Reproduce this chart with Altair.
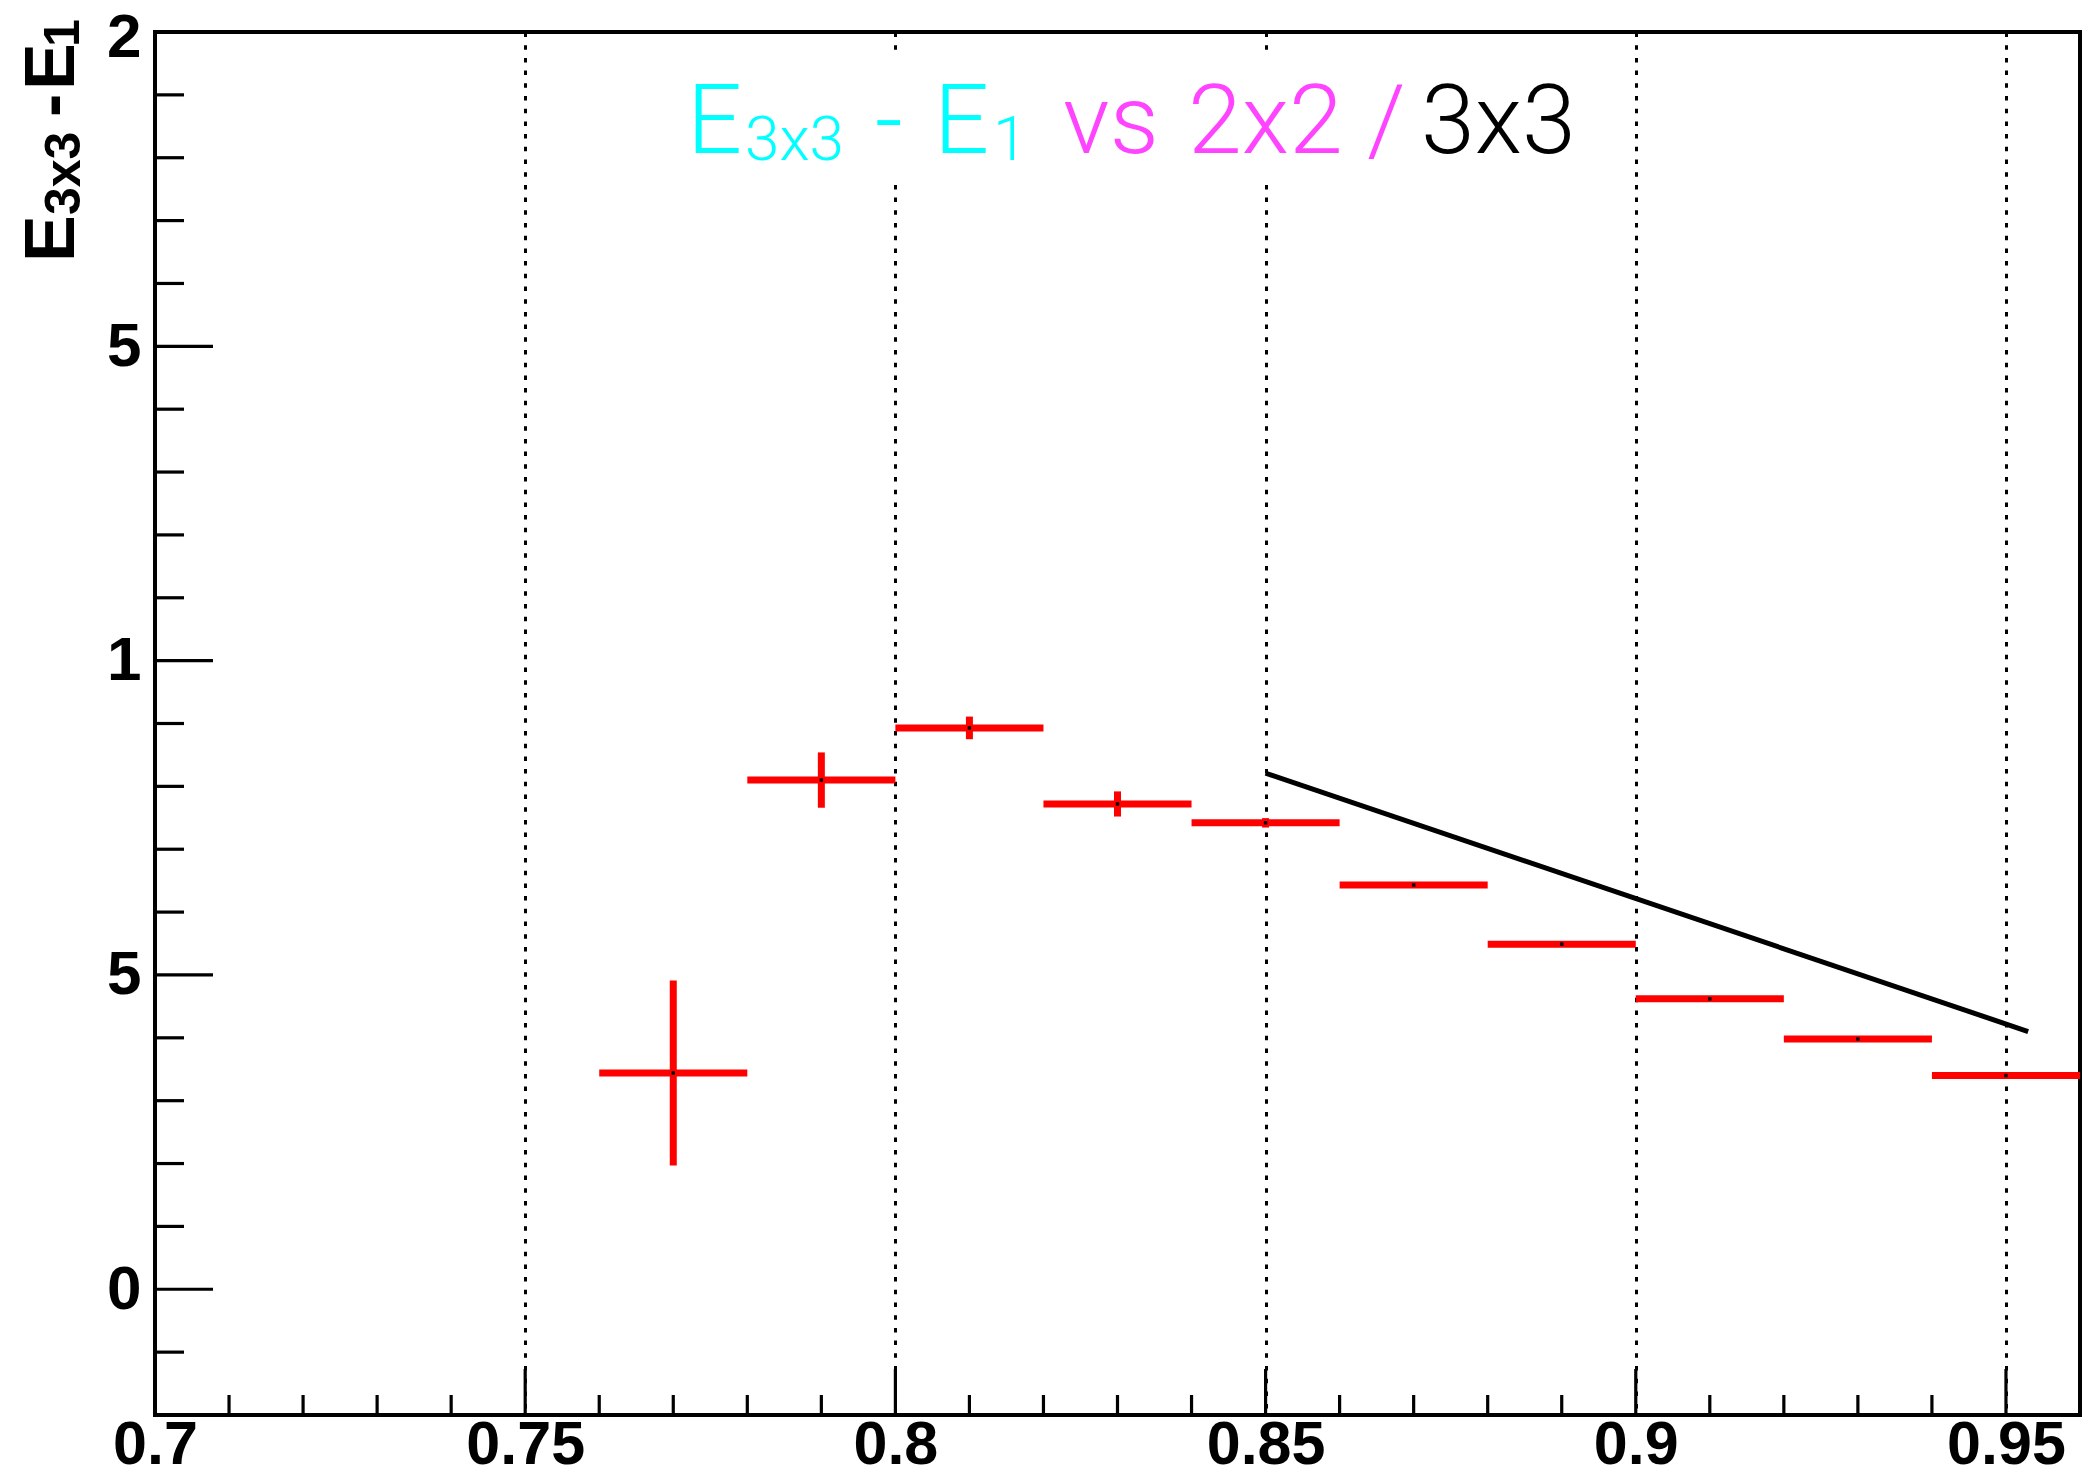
import altair as alt
import pandas as pd

# ---------------- data ----------------
bin_center = [0.77, 0.79, 0.81, 0.83, 0.85, 0.87, 0.89, 0.91, 0.93, 0.95]
bin_low = [0.76, 0.78, 0.80, 0.82, 0.84, 0.86, 0.88, 0.90, 0.92, 0.94]
bin_high = [0.78, 0.80, 0.82, 0.84, 0.86, 0.88, 0.90, 0.92, 0.94, 0.96]
value = [0.344, 0.810, 0.893, 0.772, 0.742, 0.643, 0.549, 0.462, 0.398, 0.340]
error = [0.147, 0.044, 0.018, 0.020, 0.0075, 0.002, 0.002, 0.002, 0.002, 0.002]

fit_x = [0.85, 0.953]
fit_y = [0.821, 0.410]

x_major = [0.7, 0.75, 0.8, 0.85, 0.9, 0.95]
x_minor = [0.71, 0.72, 0.73, 0.74, 0.76, 0.77, 0.78, 0.79, 0.81, 0.82, 0.83, 0.84,
           0.86, 0.87, 0.88, 0.89, 0.91, 0.92, 0.93, 0.94]
y_major = [0, 0.5, 1, 1.5, 2]
y_major_labels = ["0", "5", "1", "5", "2"]
y_minor = [-0.1, 0.1, 0.2, 0.3, 0.4, 0.6, 0.7, 0.8, 0.9, 1.1, 1.2, 1.3, 1.4,
           1.6, 1.7, 1.8, 1.9]

# ---------------- tables ----------------
df = pd.DataFrame({"xc": bin_center, "xl": bin_low, "xh": bin_high, "v": value, "e": error})
df["lo"] = df["v"] - df["e"]
df["hi"] = df["v"] + df["e"]
fit = pd.DataFrame({"x": fit_x, "y": fit_y})
xmaj = pd.DataFrame({"x": x_major[1:]})
xmin = pd.DataFrame({"x": x_minor})
ymaj = pd.DataFrame({"y": y_major})
ymin = pd.DataFrame({"y": y_minor})
one = alt.Data(values=[{"k": 1}])

W, H = 1925, 1383
RED = "#ff0000"
LABEL_FONT = "Liberation Sans"
TITLE_FONT = "Roboto"

label_expr = " : ".join(
    f"datum.value == {v} ? '{l}'" for v, l in zip(y_major, y_major_labels)
) + " : ''"

xscale = alt.Scale(domain=[0.7, 0.96], nice=False, zero=False)
yscale = alt.Scale(domain=[-0.2, 2.0], nice=False, zero=False)

xaxis = alt.Axis(values=x_major, format=".2~f", title=None, ticks=False, domain=False,
                 labelPadding=0, labelFontSize=61, labelFont=LABEL_FONT,
                 labelFontWeight="bold", labelColor="black", labelFlush=False,
                 grid=True, gridColor="black", gridDash=[4.5, 8.2], gridWidth=3,
                 gridOpacity=1)
yaxis = alt.Axis(values=y_major, labelExpr=label_expr, title=None, ticks=False,
                 domain=False, labelPadding=14, labelFontSize=62, labelFont=LABEL_FONT,
                 labelFontWeight="bold", labelColor="black", grid=False, labelFlush=False,
                 labelOffset=alt.ExprRef(expr="datum.value == 2 ? 5 : 0"))


def X(field):
    return alt.X(field, type="quantitative", scale=xscale, axis=xaxis)


def Y(field):
    return alt.Y(field, type="quantitative", scale=yscale, axis=yaxis)


hbars = alt.Chart(df).mark_rule(color=RED, strokeWidth=7).encode(
    x=X("xl"), x2="xh", y=Y("v"))
vbars = alt.Chart(df).mark_rule(color=RED, strokeWidth=7).encode(
    x=X("xc"), y=Y("lo"), y2="hi")
dots = alt.Chart(df).mark_square(color="black", size=12, opacity=1).encode(
    x=X("xc"), y=Y("v"))
fitline = alt.Chart(fit).mark_line(color="black", strokeWidth=5).encode(
    x=X("x"), y=Y("y"))

# inward tick marks (ROOT style)
tick_style = dict(color="black", strokeWidth=3.2)
xt_major = alt.Chart(xmaj).mark_rule(**tick_style).encode(
    x=X("x"), y=alt.value(H), y2=alt.value(H - 46))
xt_minor = alt.Chart(xmin).mark_rule(**tick_style).encode(
    x=X("x"), y=alt.value(H), y2=alt.value(H - 20))
yt_major = alt.Chart(ymaj).mark_rule(**tick_style).encode(
    y=Y("y"), x=alt.value(0), x2=alt.value(58))
yt_minor = alt.Chart(ymin).mark_rule(**tick_style).encode(
    y=Y("y"), x=alt.value(0), x2=alt.value(29))

# white box behind the title (interrupts the dotted grid)
title_box = alt.Chart(one).mark_rect(color="white").encode(
    x=alt.value(480), x2=alt.value(1450), y=alt.value(18), y2=alt.value(153))


def txt(s, x, y, size, color, font=TITLE_FONT, weight=300, angle=0):
    return alt.Chart(one).mark_text(
        text=s, align="left", baseline="alphabetic", fontSize=size, font=font,
        fontWeight=weight, color=color, angle=angle,
    ).encode(x=alt.value(x), y=alt.value(y))


CYAN = "#00ffff"
MAG = "#ff44ff"
title_parts = [
    txt("E", 532, 121, 97, CYAN),
    txt("3x3", 590, 128, 62, CYAN),
    txt("-", 720, 121, 97, CYAN),
    txt("E", 779, 121, 97, CYAN),
    txt("1", 838, 128, 62, CYAN),
    txt("vs", 908, 121, 97, MAG),
    txt("2x2", 1033, 121, 97, MAG),
    txt("/", 1212, 121, 97, MAG),
    txt("3x3", 1266, 121, 97, "black"),
]

ytitle_parts = [
    txt("E", -81, 230, 70, "black", LABEL_FONT, "bold", 270),
    txt("3x3", -75, 183, 50, "black", LABEL_FONT, "bold", 270),
    txt("-", -81, 85, 70, "black", LABEL_FONT, "bold", 270),
    txt("E", -81, 58, 70, "black", LABEL_FONT, "bold", 270),
    txt("1", -76, 15, 50, "black", LABEL_FONT, "bold", 270),
]

chart = alt.layer(
    hbars, title_box, xt_major, xt_minor, yt_major, yt_minor,
    vbars, fitline, dots, *title_parts, *ytitle_parts,
).properties(
    width=W, height=H,
    autosize=alt.AutoSizeParams(type="none"),
    padding={"left": 147, "top": 24, "right": 2, "bottom": 61},
    background="white",
).configure_view(stroke="black", strokeWidth=4)

chart.save("out.html", embed_options={"renderer": "svg", "actions": False})
